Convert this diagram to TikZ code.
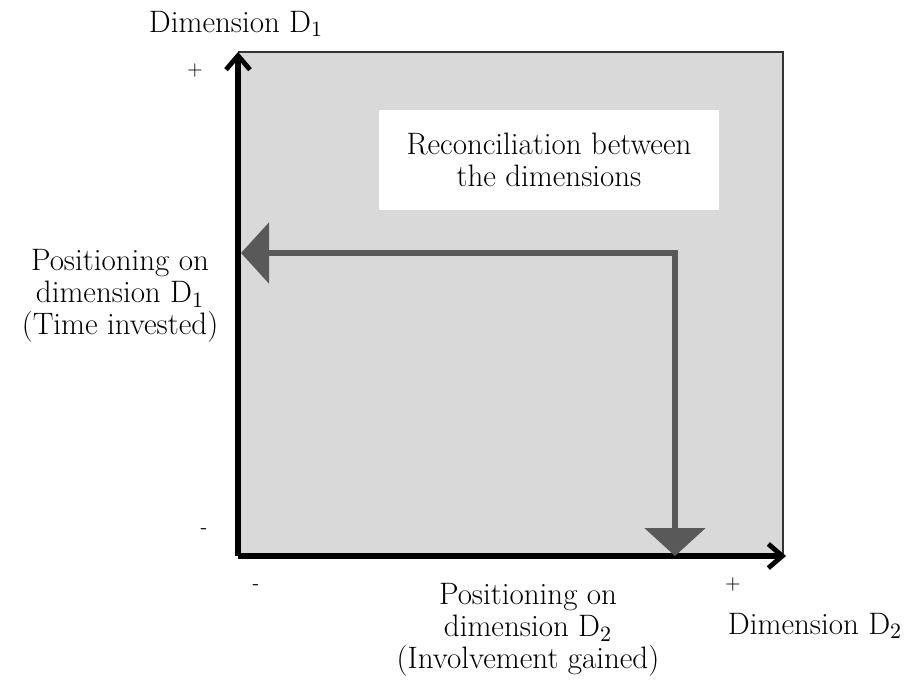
\documentclass[tikz,border=0pt]{standalone}
\usepackage{fontspec}
\usetikzlibrary{arrows.meta}
\definecolor{boxgray}{HTML}{D9D9D9}
\definecolor{arrgray}{HTML}{595959}

\begin{document}
\begin{tikzpicture}[x=0.5pt,y=-0.5pt]
	\tikzstyle{every node}=[font=\fontsize{15.5}{16}\selectfont, inner sep=0pt, align=center]
	\tikzstyle{sign}=[font=\normalsize]
	\tikzstyle{axis}=[line width=2.6pt, -{Straight Barb[length=7pt,width=12pt,line width=2.4pt]}]
	\tikzstyle{move}=[line width=3pt, arrgray, line join=miter, {Triangle[length=14pt,width=30pt]}-{Triangle[length=14pt,width=30pt]}]
	\useasboundingbox (0,0) rectangle (908,686);
	% grey field
	\fill[boxgray] (238,52) rectangle (783,556);
	\draw[black!80, line width=1pt] (238,52) -- (783,52) -- (783,556);
	\coordinate (o) at (238,556);
	\coordinate (ytop) at (238,52);
	\coordinate (xend) at (786,556);
	\draw[axis] (o) -- (ytop);
	\draw[axis] (o) -- (xend);
	% white label box
	\node[fill=white, minimum width=170pt, minimum height=50pt] (rec) at (549,160) {Reconciliation between\\the dimensions};
	% grey arrow
	\coordinate (start) at (675,556);
	\coordinate (bend) at (675,253);
	\coordinate (left) at (241,253);
	\draw[move] (start) -- (bend) -- (left);
	% labels
	\node (d1) at (236,24) {Dimension D$_1$};
	\node[sign] (p1) at (195,70) {+};
	\node[sign] (m1) at (204,531) {-};
	\node[sign] (m2) at (256,587) {-};
	\node[sign] (p2) at (733,584) {+};
	\node (d2) at (815,626) {Dimension D$_2$};
	\node (pos1) at (120,296) {Positioning on\\dimension D$_1$\\(Time invested)};
	\node (pos2) at (528,630) {Positioning on\\dimension D$_2$\\(Involvement gained)};
\end{tikzpicture}
\end{document}
